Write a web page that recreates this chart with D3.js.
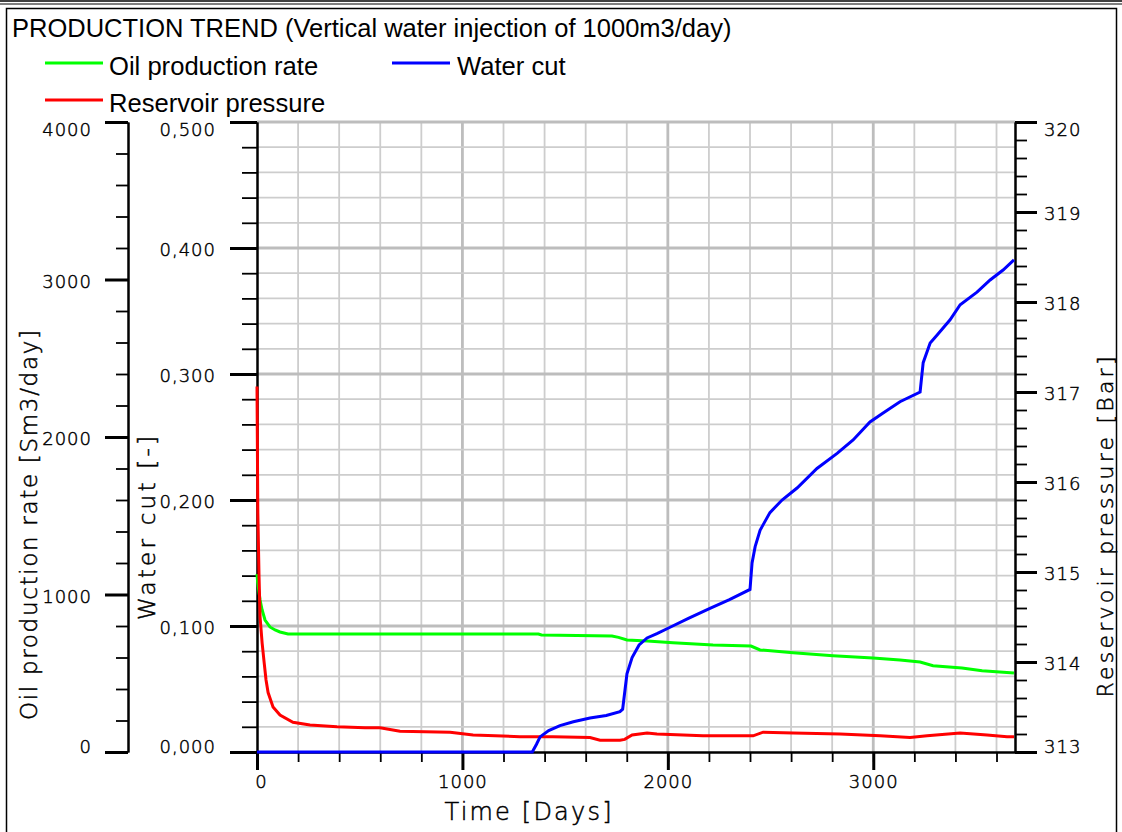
<!DOCTYPE html>
<html>
<head>
<meta charset="utf-8">
<script src="https://cdn.jsdelivr.net/npm/d3@7"></script>
<style>
  html, body { margin: 0; padding: 0; background: #fff; }
  svg { display: block; }
</style>
</head>
<body>
<svg id="chart" width="1122" height="832"></svg>
<script>
// ---------- DATA ----------
const titleText = "PRODUCTION TREND (Vertical water injection of 1000m3/day)";
const seriesNames = ["Oil production rate", "Water cut", "Reservoir pressure"];

const oilDays = [0, 3, 15, 25, 39, 63, 88, 112, 151, 600, 1000, 1370, 1385, 1728, 1760, 1801, 1900, 2025, 2220, 2405, 2449, 2610, 2804, 2999, 3130, 3228, 3291, 3432, 3530, 3685];
const oilRate = [1130, 1080, 965, 902, 838, 794, 775, 762, 749, 749, 749, 749, 743, 737, 728, 711, 704, 694, 679, 673, 648, 630, 611, 597, 584, 571, 548, 533, 516, 502];

const wcDays = [0, 1340, 1360, 1378, 1420, 1475, 1540, 1621, 1700, 1767, 1780, 1792, 1801, 1826, 1860, 1899, 1947, 2011, 2100, 2205, 2300, 2400, 2410, 2425, 2449, 2497, 2556, 2629, 2726, 2824, 2902, 2984, 3048, 3130, 3228, 3243, 3277, 3311, 3374, 3423, 3505, 3569, 3632, 3685];
const waterCut = [0, 0, 0.006, 0.012, 0.017, 0.021, 0.024, 0.027, 0.029, 0.032, 0.034, 0.050, 0.062, 0.075, 0.085, 0.0905, 0.094, 0.099, 0.106, 0.114, 0.121, 0.129, 0.150, 0.163, 0.176, 0.190, 0.200, 0.2095, 0.225, 0.237, 0.2476, 0.262, 0.269, 0.278, 0.2857, 0.309, 0.3246, 0.331, 0.343, 0.355, 0.365, 0.3746, 0.3825, 0.3905];

const presDays = [0, 4, 10, 15, 25, 35, 44, 54, 78, 112, 175, 258, 389, 526, 599, 696, 940, 1052, 1280, 1441, 1621, 1670, 1767, 1790, 1826, 1899, 1947, 2171, 2415, 2464, 2610, 2838, 3033, 3179, 3262, 3423, 3554, 3651, 3685];
const pressure = [317.06, 315.66, 314.94, 314.5, 314.21, 313.99, 313.80, 313.66, 313.50, 313.41, 313.33, 313.30, 313.28, 313.27, 313.27, 313.23, 313.22, 313.19, 313.17, 313.17, 313.16, 313.13, 313.13, 313.14, 313.19, 313.21, 313.20, 313.18, 313.18, 313.22, 313.21, 313.20, 313.18, 313.16, 313.18, 313.21, 313.19, 313.17, 313.17];

const xTicks = [0, 1000, 2000, 3000];
const xTickLabels = ["0", "1000", "2000", "3000"];
const oilTicks = [0, 1000, 2000, 3000, 4000];
const oilTickLabels = ["0", "1000", "2000", "3000", "4000"];
const wcTicks = [0, 0.1, 0.2, 0.3, 0.4, 0.5];
const wcTickLabels = ["0,000", "0,100", "0,200", "0,300", "0,400", "0,500"];
const presTicks = [313, 314, 315, 316, 317, 318, 319, 320];
const presTickLabels = ["313", "314", "315", "316", "317", "318", "319", "320"];

const xTitle = "Time [Days]";
const oilTitle = "Oil production rate [Sm3/day]";
const wcTitle = "Water cut [-]";
const presTitle = "Reservoir pressure [Bar]";

// ---------- LAYOUT ----------
const svg = d3.select("#chart");
const L = 257, R = 1015, T = 122, B = 752;
const x = d3.scaleLinear().domain([0, 3690]).range([L, R]);
const yOil = d3.scaleLinear().domain([0, 4000]).range([B, T]);
const yWC = d3.scaleLinear().domain([0, 0.5]).range([B, T]);
const yP = d3.scaleLinear().domain([313, 320]).range([B, T]);

const tickFont = "'DejaVu Sans', sans-serif";
const labelFont = "'Liberation Sans', Arial, sans-serif";

// outer frame
svg.append("rect").attr("x", 0).attr("y", 0).attr("width", 1122).attr("height", 832).attr("fill", "#fff");
svg.append("line").attr("x1", 0).attr("x2", 1122).attr("y1", 1).attr("y2", 1).attr("stroke", "#000").attr("stroke-width", 1.5);
svg.append("line").attr("x1", 0).attr("x2", 1122).attr("y1", 4).attr("y2", 4).attr("stroke", "#000").attr("stroke-width", 1.2);
svg.append("path").attr("d", "M6.5,840V8.5H1116.5V840").attr("fill", "none").attr("stroke", "#000").attr("stroke-width", 1.5);

// ---------- GRID ----------
const grid = svg.append("g");
const vMinor = d3.range(200, 3690, 200).filter(d => d % 1000 !== 0);
const vMajor = [1000, 2000, 3000];
grid.selectAll(".vmin").data(vMinor).join("line")
  .attr("x1", d => x(d)).attr("x2", d => x(d)).attr("y1", T).attr("y2", B)
  .attr("stroke", "#cdcdcd").attr("stroke-width", 1.8);
grid.selectAll(".vmaj").data(vMajor).join("line")
  .attr("x1", d => x(d)).attr("x2", d => x(d)).attr("y1", T).attr("y2", B)
  .attr("stroke", "#bdbdbd").attr("stroke-width", 2.8);
const hAll = d3.range(1, 26).map(i => i * 0.02);
const hMinor = hAll.filter((d, i) => (i + 1) % 5 !== 0);
const hMajor = [0.1, 0.2, 0.3, 0.4, 0.5];
grid.selectAll(".hmin").data(hMinor).join("line")
  .attr("x1", L).attr("x2", R).attr("y1", d => yWC(d)).attr("y2", d => yWC(d))
  .attr("stroke", "#cdcdcd").attr("stroke-width", 1.8);
grid.selectAll(".hmaj").data(hMajor).join("line")
  .attr("x1", L).attr("x2", R).attr("y1", d => yWC(d)).attr("y2", d => yWC(d))
  .attr("stroke", "#bdbdbd").attr("stroke-width", 2.8);

// ---------- AXES ----------
function styleAxis(g, major) {
  g.select(".domain").attr("stroke", "#000").attr("stroke-width", 2);
  g.selectAll(".tick line").attr("stroke", "#000").attr("stroke-width", major ? 3 : 1.8);
  g.selectAll("text").attr("font-family", tickFont).attr("font-size", 18).attr("font-weight", 300)
    .attr("letter-spacing", 1).attr("fill", "#000")
    .attr("stroke", "#000").attr("stroke-width", 0.45);
}
// vertical-axis labels stay inside the plot's height, as in the reference
function shiftLabels(g, ticks) {
  const n = ticks.length;
  g.selectAll(".tick text").attr("dy", (d, i) => {
    const idx = ticks.indexOf(d);
    if (idx === n - 1) return "0.77em";
    if (idx === 0) return "0.0em";
    return "0.42em";
  });
}

// Oil axis (left outer)
const oilMinorG = svg.append("g").attr("transform", `translate(128,0)`)
  .call(d3.axisLeft(yOil).tickValues(d3.range(0, 4001, 200)).tickSize(12).tickSizeOuter(0).tickFormat(""));
styleAxis(oilMinorG, false);
const oilMajorG = svg.append("g").attr("transform", `translate(128,0)`)
  .call(d3.axisLeft(yOil).tickValues(oilTicks).tickSize(23).tickSizeOuter(0).tickPadding(13)
    .tickFormat((d, i) => oilTickLabels[i]));
styleAxis(oilMajorG, true);
shiftLabels(oilMajorG, oilTicks);

// Water cut axis
const wcMinorG = svg.append("g").attr("transform", `translate(${L},0)`)
  .call(d3.axisLeft(yWC).tickValues(d3.range(0, 26).map(i => i * 0.02)).tickSize(15).tickSizeOuter(0).tickFormat(""));
styleAxis(wcMinorG, false);
const wcMajorG = svg.append("g").attr("transform", `translate(${L},0)`)
  .call(d3.axisLeft(yWC).tickValues(wcTicks).tickSize(27).tickSizeOuter(0).tickPadding(14)
    .tickFormat((d, i) => wcTickLabels[i]));
styleAxis(wcMajorG, true);
shiftLabels(wcMajorG, wcTicks);

// Pressure axis (right)
const pMinorG = svg.append("g").attr("transform", `translate(${R},0)`)
  .call(d3.axisRight(yP).tickValues(d3.range(0, 36).map(i => 313 + i * 0.2)).tickSize(12).tickSizeOuter(0).tickFormat(""));
styleAxis(pMinorG, false);
const pMajorG = svg.append("g").attr("transform", `translate(${R},0)`)
  .call(d3.axisRight(yP).tickValues(presTicks).tickSize(22).tickSizeOuter(0).tickPadding(7)
    .tickFormat((d, i) => presTickLabels[i]));
styleAxis(pMajorG, true);
shiftLabels(pMajorG, presTicks);

// X axis
const xMinorG = svg.append("g").attr("transform", `translate(0,${B})`)
  .call(d3.axisBottom(x).tickValues(d3.range(0, 3690, 200)).tickSize(10).tickSizeOuter(0).tickFormat(""));
styleAxis(xMinorG, false);
const xMajorG = svg.append("g").attr("transform", `translate(0,${B})`)
  .call(d3.axisBottom(x).tickValues(xTicks).tickSize(18).tickSizeOuter(0).tickPadding(5)
    .tickFormat((d, i) => xTickLabels[i]));
styleAxis(xMajorG, true);
xMajorG.selectAll(".tick").filter(d => d === 0).select("text").attr("dx", 4);

// ---------- AXIS TITLES ----------
function axisTitle(tr, size, len, txt) {
  svg.append("text").attr("transform", tr)
    .attr("text-anchor", "middle").attr("font-family", tickFont).attr("font-size", size)
    .attr("font-weight", 300).attr("fill", "#000").attr("stroke", "#000").attr("stroke-width", 0.5)
    .attr("textLength", len).attr("lengthAdjust", "spacing").text(txt);
}
axisTitle("translate(37,525) rotate(-90)", 23, 390, oilTitle);
axisTitle("translate(155,528) rotate(-90)", 23, 184, wcTitle);
axisTitle("translate(1113,527) rotate(-90)", 22, 341, presTitle);
axisTitle("translate(528,820)", 24, 167, xTitle);

// ---------- LINES ----------
const colors = { oil: "#00ff00", wc: "#0000ff", pres: "#ff0000" };
const oilPts = oilDays.map((d, i) => [d, oilRate[i]]);
const wcPts = wcDays.map((d, i) => [d, waterCut[i]]);
const presPts = presDays.map((d, i) => [d, pressure[i]]);

svg.append("path").datum(oilPts)
  .attr("d", d3.line().x(d => x(d[0])).y(d => yOil(d[1])))
  .attr("fill", "none").attr("stroke", colors.oil).attr("stroke-width", 3);
svg.append("path").datum(presPts)
  .attr("d", d3.line().x(d => x(d[0])).y(d => yP(d[1])))
  .attr("fill", "none").attr("stroke", colors.pres).attr("stroke-width", 3);
svg.append("path").datum(wcPts)
  .attr("d", d3.line().x(d => x(d[0])).y(d => yWC(d[1])))
  .attr("fill", "none").attr("stroke", colors.wc).attr("stroke-width", 3);

// ---------- TITLE & LEGEND ----------
svg.append("text").attr("x", 12).attr("y", 37)
  .attr("font-family", labelFont).attr("font-size", 25.5).attr("fill", "#000").text(titleText);

const legend = [
  { name: seriesNames[0], color: colors.oil, lx: 45, ly: 63, tx: 109, ty: 75 },
  { name: seriesNames[1], color: colors.wc, lx: 392, ly: 63, tx: 457, ty: 75 },
  { name: seriesNames[2], color: colors.pres, lx: 45, ly: 100, tx: 109, ty: 112 }
];
const lg = svg.append("g");
lg.selectAll("line").data(legend).join("line")
  .attr("x1", d => d.lx).attr("x2", d => d.lx + 58).attr("y1", d => d.ly).attr("y2", d => d.ly)
  .attr("stroke", d => d.color).attr("stroke-width", 3);
lg.selectAll("text").data(legend).join("text")
  .attr("x", d => d.tx).attr("y", d => d.ty)
  .attr("font-family", labelFont).attr("font-size", 25.6).attr("fill", "#000").text(d => d.name);
</script>
</body>
</html>
